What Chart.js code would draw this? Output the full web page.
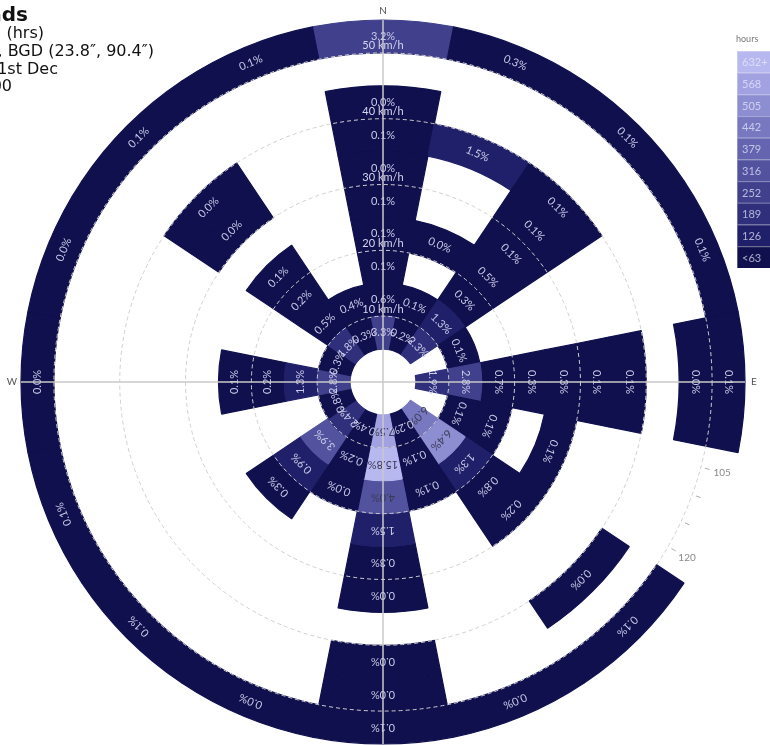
<!DOCTYPE html>
<html>
<head>
<meta charset="utf-8">
<script src="https://cdn.jsdelivr.net/npm/chart.js@4.4.1/dist/chart.umd.min.js"></script>
<style>
  html, body { margin: 0; padding: 0; background: #fff; }
  canvas { display: block; }
</style>
</head>
<body>
<canvas id="rose" width="770" height="745"></canvas>
<script>
// wind directions, clockwise from north
const directions = ['N','NNE','NE','ENE','E','ESE','SE','SSE','S','SSW','SW','WSW','W','WNW','NW','NNW'];
// speed bin edges in km/h (last bin is 50+)
const speedEdges = [5, 10, 15, 20, 25, 30, 35, 40, 45, 50, 55];
const speedTicks = [10, 20, 30, 40, 50];

// % of hours in each speed bin, per direction (null = no hours)
const pctN   = [3.3, 0.6, 0.1, 0.1, 0.1, 0.0, 0.1, 0.0, null, 3.2];
const pctNNE = [0.2, 0.1, null, 0.0, null, null, 1.5, null, null, 0.3];
const pctNE  = [2.3, 1.3, 0.3, 0.5, 0.1, 0.1, 0.1, null, null, 0.1];
const pctENE = [null, 0.1, null, null, null, null, null, null, null, 0.1];
const pctE   = [1.9, 2.8, 0.7, 0.3, 0.3, 0.1, 0.1, null, 0.0, 0.1];
const pctESE = [null, 0.1, 0.1, null, 0.1, null, null, null, null, null];
const pctSE  = [6.0, 6.4, 1.3, 0.8, 0.2, null, null, 0.0, null, 0.1];
const pctSSE = [0.2, 0.1, 0.1, null, null, null, null, null, null, 0.0];
const pctS   = [7.5, 15.8, 4.0, 1.5, 0.3, 0.0, null, 0.0, 0.0, 0.1];
const pctSSW = [0.4, 0.2, 0.0, null, null, null, null, null, null, 0.0];
const pctSW  = [2.4, 3.9, 0.9, 0.3, null, null, null, null, null, 0.1];
const pctWSW = [0.8, null, null, null, null, null, null, null, null, 0.1];
const pctW   = [2.8, 1.3, 0.2, 0.1, null, null, null, null, null, 0.0];
const pctWNW = [0.3, null, null, null, null, null, null, null, null, 0.0];
const pctNW  = [1.8, 0.5, 0.2, 0.1, null, 0.0, 0.0, null, null, 0.1];
const pctNNW = [0.3, 0.4, null, null, null, null, null, null, null, 0.1];

const byDirection = [pctN, pctNNE, pctNE, pctENE, pctE, pctESE, pctSE, pctSSE,
                     pctS, pctSSW, pctSW, pctWSW, pctW, pctWNW, pctNW, pctNNW];

// colour key (hours), bottom row first
const legendLabels = ['<63', '126', '189', '252', '316', '379', '442', '505', '568', '632+'];
const legendColors = ['#10104e', '#20206a', '#2f2f7c', '#40408d', '#52529f',
                      '#6464b0', '#7878c1', '#8d8dd2', '#a2a2e2', '#b8b8f0'];
const hourStep = 63.2;
const periodHours = 7300;

const titleLines = ['Winds', 'Wind Speed (hrs)', 'Dhaka, BGD (23.8\u2033, 90.4\u2033)', '1st Jan - 31st Dec', '0:00 - 24:00'];

function shadeIndex(pct) {
  return Math.min(legendColors.length - 1, Math.floor(pct * periodHours / 100 / hourStep));
}

// polar area arcs as annular cells: each dataset is one speed bin
class RoseController extends Chart.PolarAreaController {
  updateElements(arcs, start, count, mode) {
    const scale = this._cachedMeta.rScale;
    const ds = this.getDataset();
    const inner = scale.getDistanceFromCenterForValue(ds.speedLo);
    const outer = scale.getDistanceFromCenterForValue(ds.speedHi);
    const step = Math.PI * 2 / directions.length;
    for (let i = start; i < start + count; i++) {
      const a = -Math.PI / 2 - step / 2 + i * step;
      const empty = ds.data[i] == null;
      this.updateElement(arcs[i], i, {
        x: scale.xCenter,
        y: scale.yCenter,
        startAngle: a,
        endAngle: a + step,
        innerRadius: inner,
        outerRadius: empty ? inner : outer,
        options: this.resolveDataElementOptions(i, mode)
      }, mode);
    }
  }
}
RoseController.id = 'rose';
RoseController.defaults = Chart.PolarAreaController.defaults;
RoseController.overrides = Chart.PolarAreaController.overrides;
Chart.register(RoseController);

const cellColor = c => c.raw == null ? 'rgba(0,0,0,0)' : legendColors[shadeIndex(c.raw)];

const datasets = [];
for (let k = 0; k < speedEdges.length - 1; k++) {
  datasets.push({
    label: speedEdges[k] + '-' + speedEdges[k + 1] + ' km/h',
    speedLo: speedEdges[k],
    speedHi: speedEdges[k + 1],
    data: byDirection.map(row => row[k]),
    backgroundColor: cellColor,
    borderColor: cellColor,
    borderWidth: 1.2
  });
}

const FONT = 'Lato, "Open Sans", sans-serif';
const TITLE_FONT = '"DejaVu Sans", sans-serif';

// degree ticks and compass letters, underneath the cells
const angleAxis = {
  id: 'angleAxis',
  beforeDatasetsDraw(chart) {
    const s = chart.scales.r, ctx = chart.ctx;
    const r50 = s.getDistanceFromCenterForValue(50);
    ctx.save();
    ctx.strokeStyle = '#b0b0b0';
    ctx.lineWidth = 1;
    ctx.fillStyle = '#8a8a8a';
    ctx.font = '10px ' + FONT;
    ctx.textAlign = 'center';
    ctx.textBaseline = 'middle';
    for (let deg = 0; deg < 360; deg += 5) {
      const t = deg * Math.PI / 180, sx = Math.sin(t), cy = -Math.cos(t);
      ctx.beginPath();
      ctx.moveTo(s.xCenter + sx * (r50 + 4), s.yCenter + cy * (r50 + 4));
      ctx.lineTo(s.xCenter + sx * (r50 + 9), s.yCenter + cy * (r50 + 9));
      ctx.stroke();
      if (deg % 15 === 0 && deg % 90 !== 0) {
        ctx.fillText(String(deg), s.xCenter + sx * (r50 + 22), s.yCenter + cy * (r50 + 22));
      }
    }
    ctx.fillStyle = '#555';
    const rl = s.drawingArea + 9;
    ['N', 'E', 'S', 'W'].forEach((d, i) => {
      const t = i * Math.PI / 2;
      ctx.fillText(d, s.xCenter + Math.sin(t) * rl, s.yCenter - Math.cos(t) * rl);
    });
    ctx.restore();
  }
};

// percentage in each cell plus the speed labels up the north axis
const cellLabels = {
  id: 'cellLabels',
  afterDatasetsDraw(chart) {
    const ctx = chart.ctx, s = chart.scales.r;
    ctx.save();
    ctx.font = '11px ' + FONT;
    ctx.textAlign = 'center';
    ctx.textBaseline = 'middle';
    chart.data.datasets.forEach((ds, di) => {
      chart.getDatasetMeta(di).data.forEach((arc, i) => {
        const v = ds.data[i];
        if (v == null) return;
        const mid = (arc.startAngle + arc.endAngle) / 2;
        const rm = (arc.innerRadius + s.getDistanceFromCenterForValue(ds.speedHi)) / 2;
        ctx.save();
        ctx.translate(arc.x + Math.cos(mid) * rm, arc.y + Math.sin(mid) * rm);
        ctx.rotate(mid + Math.PI / 2);
        ctx.fillStyle = v >= 4 ? '#3a3a55' : '#c9c9e8';
        ctx.fillText(v.toFixed(1) + '%', 0, 0);
        ctx.restore();
      });
    });
    ctx.fillStyle = '#d6d6ee';
    speedTicks.forEach(v => {
      const r = s.getDistanceFromCenterForValue(v) + 7;
      ctx.fillText(v + ' km/h', s.xCenter, s.yCenter - r);
    });
    ctx.restore();
  }
};

// title block and the hours colour key
const frame = {
  id: 'frame',
  afterDraw(chart) {
    const ctx = chart.ctx;
    ctx.save();
    ctx.fillStyle = '#111';
    ctx.textAlign = 'right';
    ctx.textBaseline = 'alphabetic';
    const ends = [28, 44, 154, 58, 12];
    const bases = [21, 38, 56, 74, 91];
    titleLines.forEach((t, i) => {
      ctx.font = (i === 0 ? 'bold 20px ' : '16px ') + TITLE_FONT;
      ctx.fillText(t, ends[i], bases[i]);
    });

    ctx.textAlign = 'left';
    ctx.fillStyle = '#777';
    ctx.font = '9px ' + FONT;
    ctx.fillText('hours', 736, 42);
    const top = 51, rowH = 21.7, x0 = 737;
    ctx.font = '11px ' + FONT;
    ctx.textBaseline = 'middle';
    for (let j = 0; j < legendLabels.length; j++) {
      const idx = legendLabels.length - 1 - j;
      const y = top + j * rowH;
      ctx.fillStyle = legendColors[idx];
      ctx.fillRect(x0, y, 40, rowH);
      ctx.strokeStyle = 'rgba(255,255,255,0.3)';
      ctx.strokeRect(x0 + 0.5, y + 0.5, 40, rowH);
      ctx.fillStyle = 'rgba(235,235,255,0.7)';
      ctx.fillText(legendLabels[idx], x0 + 5, y + rowH / 2 + 1);
    }
    ctx.restore();
  }
};

new Chart(document.getElementById('rose'), {
  type: 'rose',
  data: { labels: directions, datasets: datasets },
  options: {
    responsive: false,
    animation: false,
    events: [],
    layout: { padding: { left: 21, right: 25, top: 20, bottom: 1 } },
    plugins: { legend: { display: false }, tooltip: { enabled: false } },
    scales: {
      r: {
        type: 'radialLinear',
        min: 0,
        max: 55,
        ticks: { display: false, stepSize: 10 },
        pointLabels: { display: false },
        grid: {
          z: 1,
          circular: true,
          color: '#cfcfcf',
          lineWidth: c => (c.tick && c.tick.value % 10 === 0 && c.tick.value > 0) ? 1 : 0
        },
        border: { dash: [4, 3] },
        angleLines: {
          display: true,
          color: '#c9c9c9',
          lineWidth: c => c.index % 4 === 0 ? 1.5 : 0
        }
      }
    }
  },
  plugins: [angleAxis, cellLabels, frame]
});
</script>
</body>
</html>
